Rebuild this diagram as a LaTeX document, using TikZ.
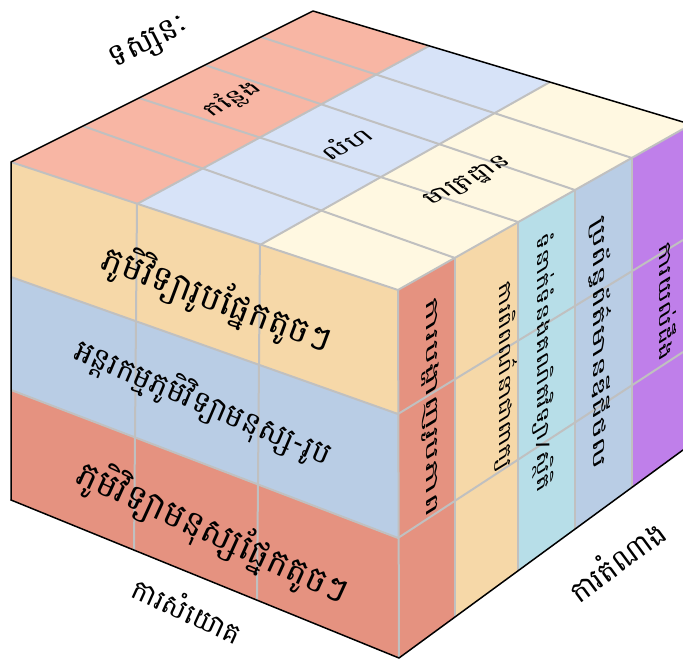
\documentclass[tikz,border=0pt]{standalone}
\usepackage{fontspec}
\newfontfamily\kh[Script=Khmer]{Battambang}
\definecolor{topsal}{RGB}{248,182,164}
\definecolor{topblu}{RGB}{215,227,248}
\definecolor{topcrm}{RGB}{255,248,225}
\definecolor{ftan}{RGB}{246,216,168}
\definecolor{fblu}{RGB}{185,205,229}
\definecolor{fred}{RGB}{229,146,128}
\definecolor{rcyan}{RGB}{183,222,232}
\definecolor{rpurp}{RGB}{191,127,234}
\definecolor{gridc}{RGB}{192,192,192}
\begin{document}
\begin{tikzpicture}[x=1pt,y=-1pt,
  gridln/.style={draw=gridc, line width=2pt},
  edge/.style={draw=black, line width=1.5pt, line cap=round, line join=round},
  kt/.style={font=\kh\fontsize{#1}{#1}\selectfont, inner sep=0pt, text=black},
  toplab/.style={kt=28, cm={0.883,0.469,-0.6,0.5,(0,0)}},
  collab/.style={kt=28, cm={0,-#1,0.62,0.38,(0,0)}}]
\useasboundingbox (0,0) rectangle (683,660);
% cube corners
\coordinate (A) at (11,162);
\coordinate (T) at (313,11);
\coordinate (Rt) at (683,122);
\coordinate (Rf) at (683,129);
\coordinate (B) at (398,290);
\coordinate (D) at (11,500);
\coordinate (C) at (399,658);
\coordinate (Rb) at (683,450);
% front face grid
\coordinate (F1) at (137,204); \coordinate (F2) at (260,245);
\coordinate (G1) at (134,551); \coordinate (G2) at (257,600);
\coordinate (L1) at (11,277);  \coordinate (L2) at (11,390);
\coordinate (M1) at (398,414); \coordinate (M2) at (398,538);
% top face grid
\coordinate (U1) at (429,46);  \coordinate (U2) at (550,82);
\coordinate (P1) at (83,126);  \coordinate (P2) at (139,98);
\coordinate (P3) at (205,65);  \coordinate (P4) at (261,37);
\coordinate (Q1) at (455,258); \coordinate (Q2) at (518,222);
\coordinate (Q3) at (575,190); \coordinate (Q4) at (632,158);
% right face grid
\coordinate (K1) at (455,617); \coordinate (K2) at (518,571);
\coordinate (K3) at (575,529); \coordinate (K4) at (632,487);
\coordinate (N1) at (683,240); \coordinate (N2) at (683,352);
% top fills
\fill[topsal] (A)--(F1)--(U1)--(T)--cycle;
\fill[topblu] (F1)--(F2)--(U2)--(U1)--cycle;
\fill[topcrm] (F2)--(B)--(Rf)--(Rt)--(U2)--cycle;
% front fills
\fill[ftan] (A)--(B)--(M1)--(L1)--cycle;
\fill[fblu] (L1)--(M1)--(M2)--(L2)--cycle;
\fill[fred] (L2)--(M2)--(C)--(D)--cycle;
% right fills
\fill[fred]  (B)--(Q1)--(K1)--(C)--cycle;
\fill[ftan]  (Q1)--(Q2)--(K2)--(K1)--cycle;
\fill[rcyan] (Q2)--(Q3)--(K3)--(K2)--cycle;
\fill[fblu]  (Q3)--(Q4)--(K4)--(K3)--cycle;
\fill[rpurp] (Q4)--(Rf)--(Rb)--(K4)--cycle;
% grid lines
\draw[gridln] (F1)--(U1) (F2)--(U2);
\draw[gridln] (P1)--(Q1) (P2)--(Q2) (P3)--(Q3) (P4)--(Q4);
\draw[gridln] (A)--(B)--(Rf);
\draw[gridln] (F1)--(G1) (F2)--(G2) (L1)--(M1) (L2)--(M2) (B)--(C);
\draw[gridln] (M1)--(N1) (M2)--(N2);
\draw[gridln] (Q1)--(K1) (Q2)--(K2) (Q3)--(K3) (Q4)--(K4);
% black edges
\draw[edge] (D)--(A)--(T)--(Rt);
\draw[edge] (D)--(C)--(Rb);
% labels
\node[kt=31, rotate=27] (persp) at (150,44) {ទស្សនៈ};
\node[toplab] (place) at (232,99) {កន្លែង};
\node[toplab] (space) at (345,143) {លំហ};
\node[toplab] (scale) at (468,181) {មាត្រដ្ឋាន};
\node[kt=35, rotate=-20.5] (row1) at (217,300) {ភូមិវិទ្យារូបផ្នែកតូចៗ};
\node[kt=30.5, rotate=-23] (row2) at (203,403) {អន្តរកម្មភូមិវិទ្យាមនុស្ស-រូប};
\node[kt=35, rotate=-24.5] (row3) at (213,533) {ភូមិវិទ្យាមនុស្សផ្នែកតូចៗ};
\node[kt=28, rotate=-24.5] (synth) at (188,609) {ការសំយោគ};
\node[kt=29, rotate=36.5] (repr) at (616,560) {ការតំណាង};
\node[collab=1.3] (c1) at (430,408) {ការបង្ហាញរូបភាព};
\node[collab=0.93] (c2) at (506,375) {ការពិពណ៌នាជាពាក្យ};
\node[collab=0.95] (c3) at (544,362) {ទំនាក់ទំនងគណិតវិទ្យា/ស្ថិតិ};
\node[collab=1.2] (c4) at (600,342) {ប្រព័ន្ធព័ត៌មានឌីជីថល};
\node[collab=1.0] (c5) at (668,300) {ការយល់ដឹង};
\end{tikzpicture}
\end{document}
